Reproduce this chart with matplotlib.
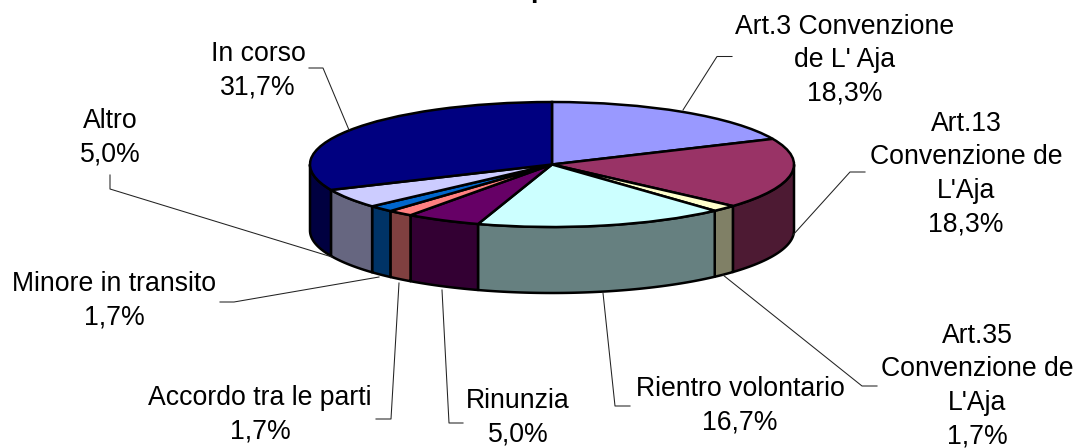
import matplotlib

matplotlib.use("Agg")
import matplotlib.pyplot as plt
import numpy as np

W, H = 1080, 448
CX, CY, RX, RY, DEPTH = 552, 164.5, 242, 62.5, 66  # pie geometry, pixels

NAMES = [
    "Art.3 Convenzione\nde L' Aja",
    "Art.13\nConvenzione de\nL'Aja",
    "Art.35\nConvenzione de\nL'Aja",
    "Rientro volontario",
    "Rinunzia",
    "Accordo tra le parti",
    "Minore in transito",
    "Altro",
    "In corso",
]
VALUES = [18.3, 18.3, 1.7, 16.7, 5.0, 1.7, 1.7, 5.0, 31.7]
TOP_COLORS = ["#9999ff", "#993366", "#ffffcc", "#ccffff", "#660066", "#ff8080", "#0066cc", "#ccccff", "#000080"]
WALL_COLORS = ["#4d4d80", "#4d1a33", "#808066", "#668080", "#330033", "#804040", "#003366", "#666680", "#000040"]

# label centres and leader polylines, in image pixels
LABEL_POS = [(845, 60), (966, 174), (977, 386), (740, 406), (518, 418), (260, 415), (114, 301), (110, 138), (258, 71)]
LEADERS = [
    [(732, 56.5), (717, 56.5), (683, 110)],
    [(865, 172), (850, 172), (793, 235)],
    [(877, 386), (862, 386), (723, 275)],
    [(630, 406), (615, 406), (603, 293)],
    [(463, 423), (449, 423), (442, 290)],
    [(376, 419), (391, 419), (399, 283)],
    [(220, 302), (234, 302), (379, 277)],
    [(110, 175), (110, 189), (332, 257)],
    [(309, 68), (323, 68), (349, 130)],
]

plt.rcParams["font.family"] = ["Liberation Sans", "DejaVu Sans"]

fig = plt.figure(figsize=(W / 100, H / 100), dpi=100)

# pie axes: one data unit is one radius, so the circle lands on the ellipse
ax = fig.add_axes([0, 0, 1, 1])
edges = np.cumsum([0, *VALUES]) / sum(VALUES) * 360
depth = DEPTH / RY
for i, color in enumerate(WALL_COLORS):
    a0, a1 = max(edges[i], 90), min(edges[i + 1], 270)
    if a1 <= a0:
        continue
    t = np.radians(np.linspace(a0, a1, 60))
    xs = np.r_[np.sin(t), np.sin(t[::-1])]
    ys = np.r_[np.cos(t), np.cos(t[::-1]) - depth]
    ax.fill(xs, ys, facecolor=color, edgecolor="black", linewidth=1.8, joinstyle="round")
ax.pie(
    VALUES,
    colors=TOP_COLORS,
    startangle=90,
    counterclock=False,
    wedgeprops={"edgecolor": "black", "linewidth": 1.8},
)
ax.set_aspect("auto")
ax.set_xlim(-CX / RX, (W - CX) / RX)
ax.set_ylim((CY - H) / RY, CY / RY)
ax.axis("off")

# overlay in image pixels for labels and leaders
over = fig.add_axes([0, 0, 1, 1], facecolor="none")
over.set_xlim(0, W)
over.set_ylim(H, 0)
over.axis("off")
for name, value, (x, y), leader in zip(NAMES, VALUES, LABEL_POS, LEADERS, strict=True):
    lx, ly = zip(*leader)
    over.plot(lx, ly, color="#222222", lw=0.75)
    pct = f"{value:.1f}%".replace(".", ",")
    over.text(x, y, f"{name}\n{pct}", ha="center", va="center", fontsize=19.2, color="black", linespacing=1.37)

# the chart title is cut off by the image's top edge, only a descender shows
over.text(530, -3, "p", fontsize=19.2, fontweight="bold", ha="left", va="baseline", color="black")

fig.savefig("out.png", dpi=100)
